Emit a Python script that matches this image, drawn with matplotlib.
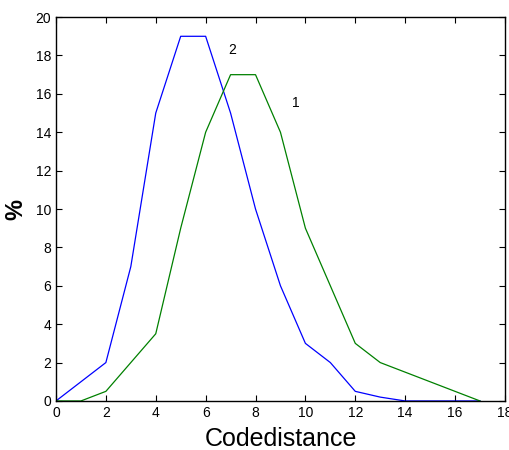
import matplotlib
matplotlib.use("Agg")
import matplotlib.pyplot as plt

# Data
dist = [0, 1, 2, 3, 4, 5, 6, 7, 8, 9, 10, 11, 12, 13, 14, 15, 16, 17]
curve2 = [0, 1, 2, 7, 15, 19, 19, 15, 10, 6, 3, 2, 0.5, 0.2, 0, 0, 0, 0]
curve1 = [0, 0, 0.5, 2, 3.5, 9, 14, 17, 17, 14, 9, 6, 3, 2, 1.5, 1, 0.5, 0]

plt.rcParams["font.family"] = ["Liberation Sans", "DejaVu Sans"]

fig = plt.figure(figsize=(5.09, 4.5), dpi=100)
ax = fig.add_axes([0.110, 0.109, 0.882, 0.853])

ax.plot(dist, curve2, color="blue", lw=0.9)
ax.plot(dist, curve1, color="green", lw=0.9)

ax.text(7.06, 18.3, "2", fontsize=10, ha="center", va="center")
ax.text(9.62, 15.5, "1", fontsize=10, ha="center", va="center")

ax.set_xlim(0, 18)
ax.set_ylim(0, 20)
ax.set_xticks(range(0, 19, 2))
ax.set_yticks(range(0, 21, 2))
ax.tick_params(direction="in", top=True, right=True, labelsize=10, length=4)
for s in ax.spines.values():
    s.set_linewidth(1.0)

ax.set_xlabel("Codedistance", fontsize=18, labelpad=5)
ax.set_ylabel("%", fontsize=17, fontweight="bold", labelpad=6)

fig.savefig("out.png", dpi=100)
